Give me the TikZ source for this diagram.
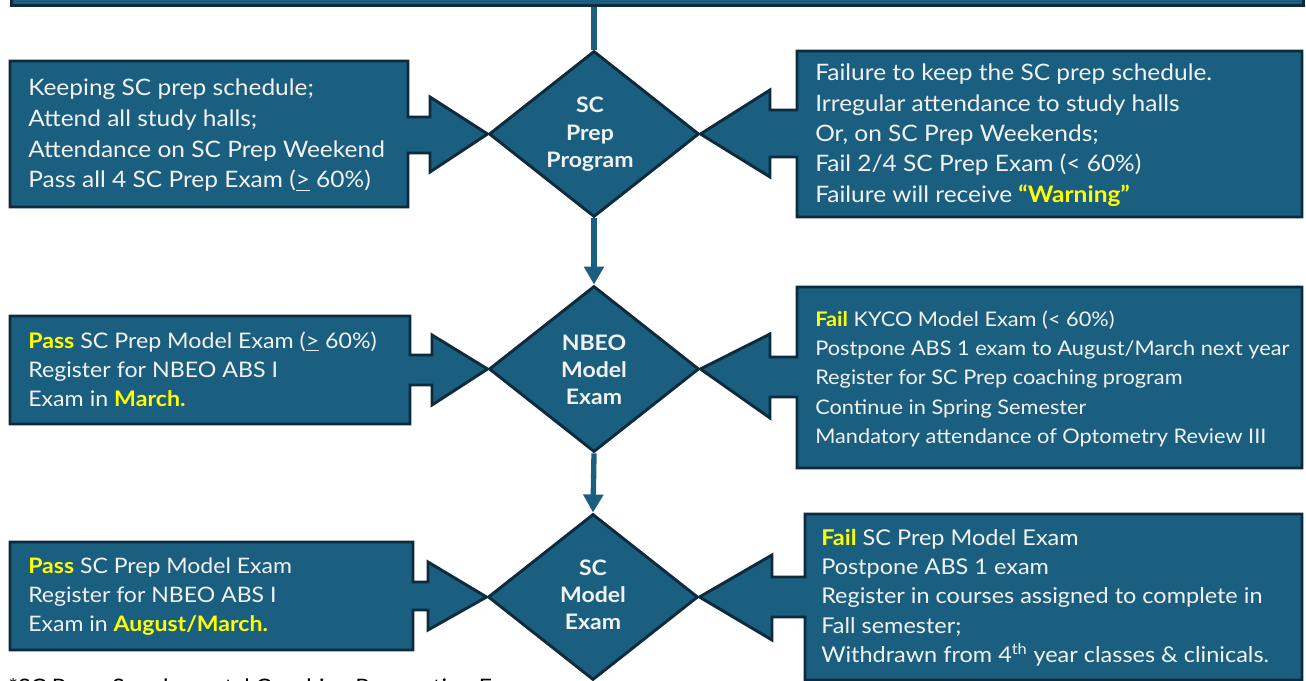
\documentclass[tikz,border=0pt]{standalone}
\usepackage{fontspec}
\setmainfont{Lato}[FakeStretch=1.08]
\usetikzlibrary{shapes.geometric,arrows.meta}
\definecolor{fillb}{HTML}{1A5F80}
\definecolor{edgeb}{HTML}{0D2B3D}
\definecolor{txt}{HTML}{F2F2F2}
\definecolor{yel}{HTML}{FFFF00}
\newcommand\yel[1]{{\bfseries\color{yel}#1}}
\newcommand\mytab[3]{\fontsize{#1}{#2}\selectfont\begin{tabular}[t]{@{}l@{}}#3\end{tabular}}
\newcommand\dtab[1]{\fontsize{16}{20.6}\selectfont\bfseries\begin{tabular}[t]{@{}c@{}}#1\end{tabular}}
\begin{document}
\begin{tikzpicture}[x=0.75pt,y=-0.75pt,
  shp/.style={fill=fillb, draw=edgeb, line width=2.2pt, line join=miter},
  dia/.style={diamond, shp, inner sep=0pt, minimum width=210*0.75pt, minimum height=166*0.75pt},
  tx/.style={text=txt, inner sep=0pt, anchor=base west},
  dt/.style={text=txt, inner sep=0pt, anchor=base},
  conn/.style={draw=fillb, line width=4pt, -{Triangle[width=14.5pt,length=13.5pt]}},
  link/.style={draw=fillb, line width=4pt}]
\useasboundingbox (0,0) rectangle (1306,681);
\fill[white] (0,0) rectangle (1306,681);

% footnote (cut off at the bottom edge, as in the reference)
\node[inner sep=0pt, anchor=base west, text=black, font=\fontsize{16}{20}\selectfont] (note) at (8,694) {*SC Prep: Supplemental Coaching Preparation Exam};

% top bar
\node[shp, rectangle, anchor=south west, inner sep=0pt, minimum width=1292*0.75pt, minimum height=40*0.75pt] (top) at (10,7) {};

% diamonds
\node[dia] (d1) at (594,134) {};
\node[dia] (d2) at (594,369) {};
\node[dia] (d3) at (593,597) {};

% vertical connectors
\draw[link] (top.south -| d1.north) -- (d1.north);
\draw[conn] (d1.south) -- (d2.north);
\draw[conn] (d2.south) -- (d3.north);

% left callouts
\draw[shp] (10,61) -- (408,61) -- (408,117) -- (430,117) -- (430,97) -- (d1.west)
  -- (430,172) -- (430,153) -- (408,153) -- (408,207) -- (10,207) -- cycle;
\draw[shp] (10,316) -- (410,316) -- (410,355) -- (432,355) -- (432,335) -- (d2.west)
  -- (432,405) -- (432,385) -- (410,385) -- (410,424) -- (10,424) -- cycle;
\draw[shp] (10,542) -- (413,542) -- (413,582) -- (428,582) -- (428,562) -- (d3.west)
  -- (428,630) -- (428,610) -- (413,610) -- (413,650) -- (10,650) -- cycle;

% right callouts
\draw[shp] (1302,51) -- (1302,217) -- (797,217) -- (797,157) -- (770,157) -- (770,177) -- (d1.east)
  -- (770,90) -- (770,110) -- (797,110) -- (797,51) -- cycle;
\draw[shp] (1302,287) -- (1302,468) -- (797,468) -- (797,397) -- (770,397) -- (770,418) -- (d2.east)
  -- (770,334) -- (770,357) -- (797,357) -- (797,287) -- cycle;
\draw[shp] (1302,514) -- (1302,680) -- (805,680) -- (805,617) -- (772,617) -- (772,640) -- (d3.east)
  -- (772,555) -- (772,577) -- (805,577) -- (805,514) -- cycle;

% diamond texts
\node[dt] (d1t) at (590,113) {\dtab{SC\\Prep\\Program}};
\node[dt] (d2t) at (594,350) {\dtab{NBEO\\Model\\Exam}};
\node[dt] (d3t) at (593,575) {\dtab{SC\\Model\\Exam}};

% box texts
\node[tx] (l1t) at (28,96) {\mytab{17}{23pt}{Keeping SC prep schedule;\\Attend all study halls;\\Attendance on SC Prep Weekend\\Pass all 4 SC Prep Exam (\underline{>} 60\%)}};
\node[tx] (r1t) at (815,81) {\mytab{17}{22.7pt}{Failure to keep the SC prep schedule.\\Irregular attendance to study halls\\Or, on SC Prep Weekends;\\Fail 2/4 SC Prep Exam (< 60\%)\\Failure will receive \yel{“Warning”}}};
\node[tx] (l2t) at (28,348) {\mytab{16.1}{21.75pt}{\yel{Pass} SC Prep Model Exam (\underline{>} 60\%)\\Register for NBEO ABS I\\Exam in \yel{March.}}};
\node[tx] (r2t) at (815,326) {\mytab{15.1}{22pt}{\yel{Fail} KYCO Model Exam (< 60\%)\\Postpone ABS 1 exam to August/March next year\\Register for SC Prep coaching program\\Continue in Spring Semester\\Mandatory attendance of Optometry Review III}};
\node[tx] (l3t) at (28,573) {\mytab{16}{22.1pt}{\yel{Pass} SC Prep Model Exam\\Register for NBEO ABS I\\Exam in \yel{August/March.}}};
\node[tx] (r3t) at (821,545) {\mytab{16.3}{22.1pt}{\yel{Fail} SC Prep Model Exam\\Postpone ABS 1 exam\\Register in courses assigned to complete in\\Fall semester;\\Withdrawn from 4\textsuperscript{th} year classes \& clinicals.}};
\end{tikzpicture}
\end{document}
